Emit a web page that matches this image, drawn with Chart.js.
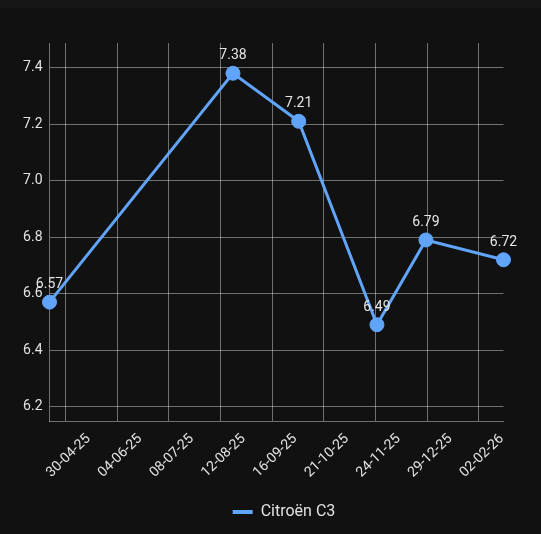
<!DOCTYPE html>
<html><head><meta charset="utf-8">
<script src="https://cdn.jsdelivr.net/npm/chart.js@4.4.1/dist/chart.umd.min.js"></script>
<style>
html,body{margin:0;padding:0;background:#111111;width:541px;height:534px;overflow:hidden;}
#band{position:absolute;left:0;top:0;width:541px;height:8px;background:#161616;}
#wrap{position:absolute;left:0;top:0;width:541px;height:534px;}
canvas{display:block;}
</style></head><body>
<div id="band"></div>
<div id="wrap"><canvas id="c" width="541" height="534" style="width:541px;height:534px"></canvas></div>
<script>
// ---- data ----
const seriesName = 'Citroën C3';
const refuelDates = ['2025-04-02T04:00:00Z', '2025-08-03T11:00:00Z', '2025-09-16T15:00:00Z', '2025-11-08T05:00:00Z', '2025-12-11T03:00:00Z', '2026-02-01T06:00:00Z'];
const consumption = [6.57, 7.38, 7.21, 6.49, 6.79, 6.72];
const xTickLabels = ['30-04-25', '04-06-25', '08-07-25', '12-08-25', '16-09-25', '21-10-25', '24-11-25', '29-12-25', '02-02-26'];
const yTickValues = [6.2, 6.4, 6.6, 6.8, 7.0, 7.2, 7.4];
const yMin = 6.147, yMax = 7.487;
const xTickStepMs = 3e9;

// ---- build ----
const xs = refuelDates.map(d => Date.parse(d));
const firstTick = Math.ceil(xs[0] / xTickStepMs) * xTickStepMs;
const xTickValues = xTickLabels.map((_, i) => firstTick + i * xTickStepMs);

const FONT = 'Roboto';
const gridColor = 'rgba(255,255,255,0.4)';
const textColor = '#e2e2e2';
const lineColor = '#60a5fa';

Chart.defaults.font.family = FONT;
Chart.defaults.font.size = 14;
Chart.defaults.color = textColor;

const valueLabels = {
  id: 'valueLabels',
  afterDatasetsDraw(chart) {
    const ctx = chart.ctx;
    const meta = chart.getDatasetMeta(0);
    ctx.save();
    ctx.font = '14px ' + FONT;
    ctx.fillStyle = '#e6e6e6';
    ctx.textAlign = 'center';
    ctx.textBaseline = 'middle';
    meta.data.forEach((pt, i) => {
      ctx.fillText(consumption[i].toFixed(2), pt.x, pt.y - 17.7);
    });
    ctx.restore();
  }
};

const legendShift = {
  id: 'legendShift',
  afterLayout(chart) {
    if (chart.legend) { chart.legend.left += 27; }
  }
};

new Chart(document.getElementById('c'), {
  type: 'line',
  data: {
    datasets: [{
      label: seriesName,
      data: xs.map((x, i) => ({x: x, y: consumption[i]})),
      borderColor: lineColor,
      backgroundColor: lineColor,
      borderWidth: 3,
      pointRadius: 7,
      pointBorderWidth: 1,
      pointBackgroundColor: lineColor,
      pointBorderColor: lineColor,
      tension: 0,
      clip: false
    }]
  },
  options: {
    responsive: false,
    animation: false,
    layout: {padding: {left: 0, right: 0, top: 43, bottom: 4}},
    plugins: {
      legend: {
        position: 'bottom',
        labels: {
          color: textColor,
          font: {family: FONT, size: 16},
          usePointStyle: true,
          pointStyle: 'line',
          pointStyleWidth: 20,
          generateLabels: chart => Chart.defaults.plugins.legend.labels.generateLabels(chart)
            .map(l => Object.assign(l, {lineWidth: 4, strokeStyle: lineColor, pointStyle: 'line'}))
        }
      },
      tooltip: {enabled: false}
    },
    scales: {
      x: {
        type: 'linear',
        bounds: 'data',
        min: xs[0],
        max: xs[xs.length - 1],
        grid: {offset: true, color: gridColor, drawTicks: false},
        border: {color: gridColor},
        ticks: {
          color: textColor,
          font: {size: 14},
          padding: 9,
          labelOffset: -3,
          minRotation: 44,
          maxRotation: 44,
          autoSkip: false,
          callback: (v, i) => xTickLabels[i]
        },
        afterBuildTicks: s => { s.ticks = xTickValues.map(v => ({value: v})); },
        afterFit: s => { s.height = 72.3; }
      },
      y: {
        min: yMin,
        max: yMax,
        grid: {color: gridColor, drawTicks: false},
        border: {color: gridColor},
        ticks: {
          color: textColor,
          font: {size: 14},
          padding: 7,
          callback: v => Number(v).toFixed(1)
        },
        afterBuildTicks: s => { s.ticks = yTickValues.map(v => ({value: v})); },
        afterFit: s => { s.width = 49.5; }
      },
      yR: {
        position: 'right',
        display: true,
        grid: {display: false},
        border: {display: false},
        ticks: {display: false},
        afterFit: s => { s.width = 37.5; }
      }
    }
  },
  plugins: [valueLabels, legendShift]
});
</script>
</body></html>
